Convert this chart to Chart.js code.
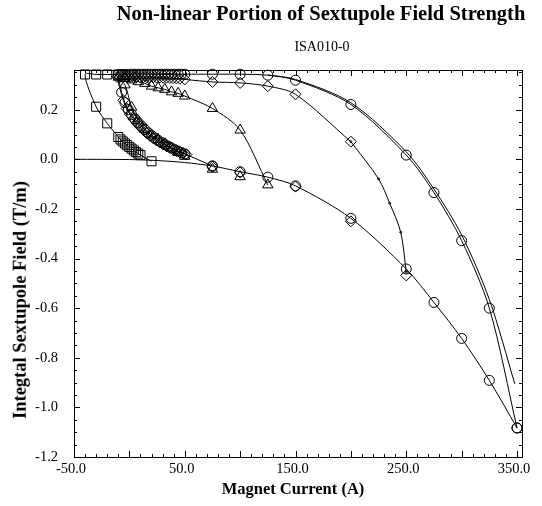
<!DOCTYPE html>
<html>
<head>
<meta charset="utf-8">
<script src="https://cdn.jsdelivr.net/npm/chart.js@4.4.0/dist/chart.umd.min.js"></script>
<style>
  html, body { margin: 0; padding: 0; background: #fff; }
  #wrap { position: relative; width: 542px; height: 506px; }
  #chart { position: absolute; left: 0; top: 0; }
  .lbl { position: absolute; font-family: "Liberation Serif", "Times New Roman", serif; color: #000; white-space: nowrap; line-height: 1; }
  #title { font-size: 20.5px; font-weight: bold; left: 321px; top: 3px; transform: translateX(-50%); }
  #subtitle { font-size: 14px; left: 322px; top: 40px; transform: translateX(-50%); }
  #ytitle { font-size: 18.5px; font-weight: bold; left: 20px; top: 300px; transform: translate(-50%, -50%) rotate(-90deg); }
  #xtitle { font-size: 16.5px; font-weight: bold; left: 293px; top: 481px; transform: translateX(-50%); }
</style>
</head>
<body>
<div id="wrap">
  <canvas id="chart" width="542" height="506"></canvas>
  <div class="lbl" id="title">Non-linear Portion of Sextupole Field Strength</div>
  <div class="lbl" id="subtitle">ISA010-0</div>
  <div class="lbl" id="ytitle">Integtal Sextupole Field (T/m)</div>
  <div class="lbl" id="xtitle">Magnet Current (A)</div>
</div>
<script>
// axis ticks
var xTickValues = [-50, 50, 150, 250, 350];
var yTickValues = [-1.2, -1.0, -0.8, -0.6, -0.4, -0.2, 0.0, 0.2];
var xRange = [-50, 354.5];
var yRange = [-1.2, 0.36];

// first ramp up (lower curve)
var virginX = [-50, 0, 25, 50, 75, 100, 125, 150, 200, 250, 275, 300, 325, 350];
var virginY = [0.0, -0.001, -0.005, -0.013, -0.027, -0.05, -0.072, -0.107, -0.238, -0.442, -0.577, -0.722, -0.891, -1.083];

// circles: ramp down from 350 A, then back up
var circDownX = [350, 325, 300, 275, 250, 200, 150, 125, 100, 75, 50, 47, 44, 41, 38, 35, 32, 29, 26, 23, 20, 17, 14, 11, 8, 5, 2, -1, -4, -7, -10];
var circDownY = [-1.083, -0.6, -0.328, -0.134, 0.017, 0.221, 0.319, 0.339, 0.343, 0.343, 0.343, 0.343, 0.343, 0.343, 0.343, 0.343, 0.343, 0.343, 0.343, 0.343, 0.343, 0.343, 0.343, 0.343, 0.343, 0.343, 0.343, 0.342, 0.342, 0.342, 0.341];
var circUpX = [-7, -4, -1, 2, 5, 8, 11, 14, 17, 20, 23, 26, 29, 32, 35, 38, 41, 44, 47, 50, 75];
var circUpY = [0.27, 0.228, 0.2, 0.18, 0.163, 0.148, 0.134, 0.12, 0.107, 0.096, 0.086, 0.077, 0.068, 0.06, 0.053, 0.046, 0.039, 0.033, 0.027, 0.022, -0.027];

// second line beside the 350 A ramp, no symbols
var traceX = [348, 325, 300, 275, 250, 200, 150, 125];
var traceY = [-0.905, -0.565, -0.305, -0.12, 0.03, 0.228, 0.322, 0.34];

// diamonds: ramp down from 250 A
var diaVirginX = [75, 100, 150, 200, 250];
var diaVirginY = [-0.03, -0.053, -0.11, -0.25, -0.468];
var diaDropX = [250, 245, 235, 225, 200];
var diaDropY = [-0.455, -0.294, -0.177, -0.079, 0.071];
var diaDownX = [200, 150, 125, 100, 75, 50, 45.5, 42.5, 39.5, 36.5, 33.5, 30.5, 27.5, 24.5, 21.5, 18.5, 15.5, 12.5, 9.5, 6.5, 3.5, 0.5, -2.5, -5.5, -8.5, -11];
var diaDownY = [0.071, 0.262, 0.295, 0.308, 0.312, 0.322, 0.325, 0.326, 0.327, 0.328, 0.329, 0.329, 0.33, 0.33, 0.33, 0.331, 0.331, 0.331, 0.331, 0.332, 0.332, 0.332, 0.332, 0.332, 0.332, 0.332];
var diaUpX = [-5.5, -2.5, 0.5, 3.5, 6.5, 9.5, 12.5, 15.5, 18.5, 21.5, 24.5, 27.5, 30.5, 33.5, 36.5, 39.5, 42.5, 45.5, 48.5, 51.5];
var diaUpY = [0.238, 0.205, 0.182, 0.163, 0.147, 0.132, 0.119, 0.106, 0.095, 0.085, 0.076, 0.068, 0.06, 0.053, 0.046, 0.04, 0.034, 0.029, 0.024, 0.019];

// triangles: ramp down from 125 A
var triVirginX = [75, 100];
var triVirginY = [-0.04, -0.07];
var triDownX = [125, 100, 75, 50, 44, 38, 32, 26, 20, 14, 8, 2, -4, -10];
var triDownY = [-0.103, 0.118, 0.205, 0.255, 0.266, 0.272, 0.282, 0.288, 0.295, 0.306, 0.313, 0.32, 0.326, 0.331];
var triUpX = [-4, 2, 8, 14, 20, 26, 32, 38, 44, 50];
var triUpY = [0.3, 0.21, 0.155, 0.12, 0.098, 0.08, 0.063, 0.045, 0.028, 0.012];

// squares: down to -40 A and back
var sqX = [-10, -20, -30, -40, -30, -20, -10, -8, -6, -4, -2, 0, 2, 4, 6, 8, 10, 20];
var sqY = [0.342, 0.342, 0.342, 0.342, 0.212, 0.145, 0.09, 0.08, 0.072, 0.064, 0.057, 0.05, 0.043, 0.036, 0.029, 0.023, 0.017, -0.008];

var xMinorStep = 10;
var yMinorStep = 0.05;

function pts(xs, ys) {
  return xs.map(function (x, i) { return { x: x, y: ys[i] }; });
}

function series(data, style, radius, line) {
  return {
    data: data,
    showLine: line,
    pointStyle: style,
    pointRadius: radius,
    pointHoverRadius: radius,
    borderColor: "#000",
    borderWidth: 1,
    backgroundColor: "rgba(0,0,0,0)",
    pointBorderColor: "#000",
    pointBackgroundColor: "rgba(0,0,0,0)",
    pointBorderWidth: 1,
    tension: 0.3,
    clip: false,
  };
}

var frameTicks = {
  id: "frameTicks",
  afterDatasetsDraw: function (chart) {
    var ctx = chart.ctx, a = chart.chartArea;
    var sx = chart.scales.x, sy = chart.scales.y;
    ctx.save();
    ctx.strokeStyle = "#000";
    ctx.lineWidth = 1;
    ctx.strokeRect(Math.round(a.left) + 0.5, Math.round(a.top) + 0.5,
      Math.round(a.right - a.left), Math.round(a.bottom - a.top));
    ctx.beginPath();
    for (var i = Math.ceil(xRange[0] / xMinorStep); i * xMinorStep <= xRange[1]; i++) {
      var v = i * xMinorStep;
      var px = Math.round(sx.getPixelForValue(v)) + 0.5;
      var len = v % 50 === 0 ? 6 : 3;
      ctx.moveTo(px, a.bottom); ctx.lineTo(px, a.bottom - len);
      ctx.moveTo(px, a.top); ctx.lineTo(px, a.top + len);
    }
    for (var j = Math.round(yRange[0] / yMinorStep); j * yMinorStep <= yRange[1] + 1e-9; j++) {
      var py = Math.round(sy.getPixelForValue(j * yMinorStep)) + 0.5;
      var l = j % 4 === 0 ? 6 : 3;
      ctx.moveTo(a.left, py); ctx.lineTo(a.left + l, py);
      ctx.moveTo(a.right, py); ctx.lineTo(a.right - l, py);
    }
    ctx.stroke();
    ctx.restore();
  },
};

var tickFont = { family: "'Liberation Serif', 'Times New Roman', serif", size: 14.5 };

new Chart(document.getElementById("chart").getContext("2d"), {
  type: "scatter",
  data: {
    datasets: [
      Object.assign(series(pts(virginX, virginY), "circle", 5, true), {
        pointRadius: function (c) { return c.raw && c.raw.x < 70 ? 0 : 5; },
      }),
      series(pts(circDownX.concat(circUpX), circDownY.concat(circUpY)), "circle", 5, true),
      series(pts(traceX, traceY), "circle", 0, true),
      series(pts(diaVirginX, diaVirginY), "rectRot", 5.5, false),
      series(pts(diaDropX, diaDropY), "circle", 1, true),
      series(pts(diaDownX.concat(diaUpX), diaDownY.concat(diaUpY)), "rectRot", 5.5, true),
      series(pts(triVirginX, triVirginY), "triangle", 6, false),
      series(pts(triDownX.concat(triUpX), triDownY.concat(triUpY)), "triangle", 6, true),
      series(pts(sqX, sqY), "rect", 6.4, true),
    ],
  },
  options: {
    responsive: false,
    animation: false,
    devicePixelRatio: 1,
    layout: { padding: { top: 70, right: 20, left: 0, bottom: 0 } },
    plugins: { legend: { display: false }, tooltip: { enabled: false } },
    scales: {
      x: {
        type: "linear",
        min: xRange[0],
        max: xRange[1],
        grid: { display: false },
        border: { display: false },
        afterBuildTicks: function (s) { s.ticks = xTickValues.map(function (v) { return { value: v }; }); },
        afterFit: function (s) { s.height = 49; s.paddingLeft = 0; s.paddingRight = 0; },
        ticks: {
          autoSkip: false, maxRotation: 0, padding: -5, labelOffset: -3, color: "#000", font: tickFont,
          callback: function (v) { return Number(v).toFixed(1); },
        },
      },
      y: {
        type: "linear",
        min: yRange[0],
        max: yRange[1],
        grid: { display: false },
        border: { display: false },
        afterBuildTicks: function (s) { s.ticks = yTickValues.map(function (v) { return { value: v }; }); },
        afterFit: function (s) { s.width = 74; s.paddingTop = 0; s.paddingBottom = 0; },
        ticks: {
          padding: 8, color: "#000", font: tickFont,
          callback: function (v) { return Number(v).toFixed(1); },
        },
      },
    },
  },
  plugins: [frameTicks],
});
</script>
</body>
</html>
